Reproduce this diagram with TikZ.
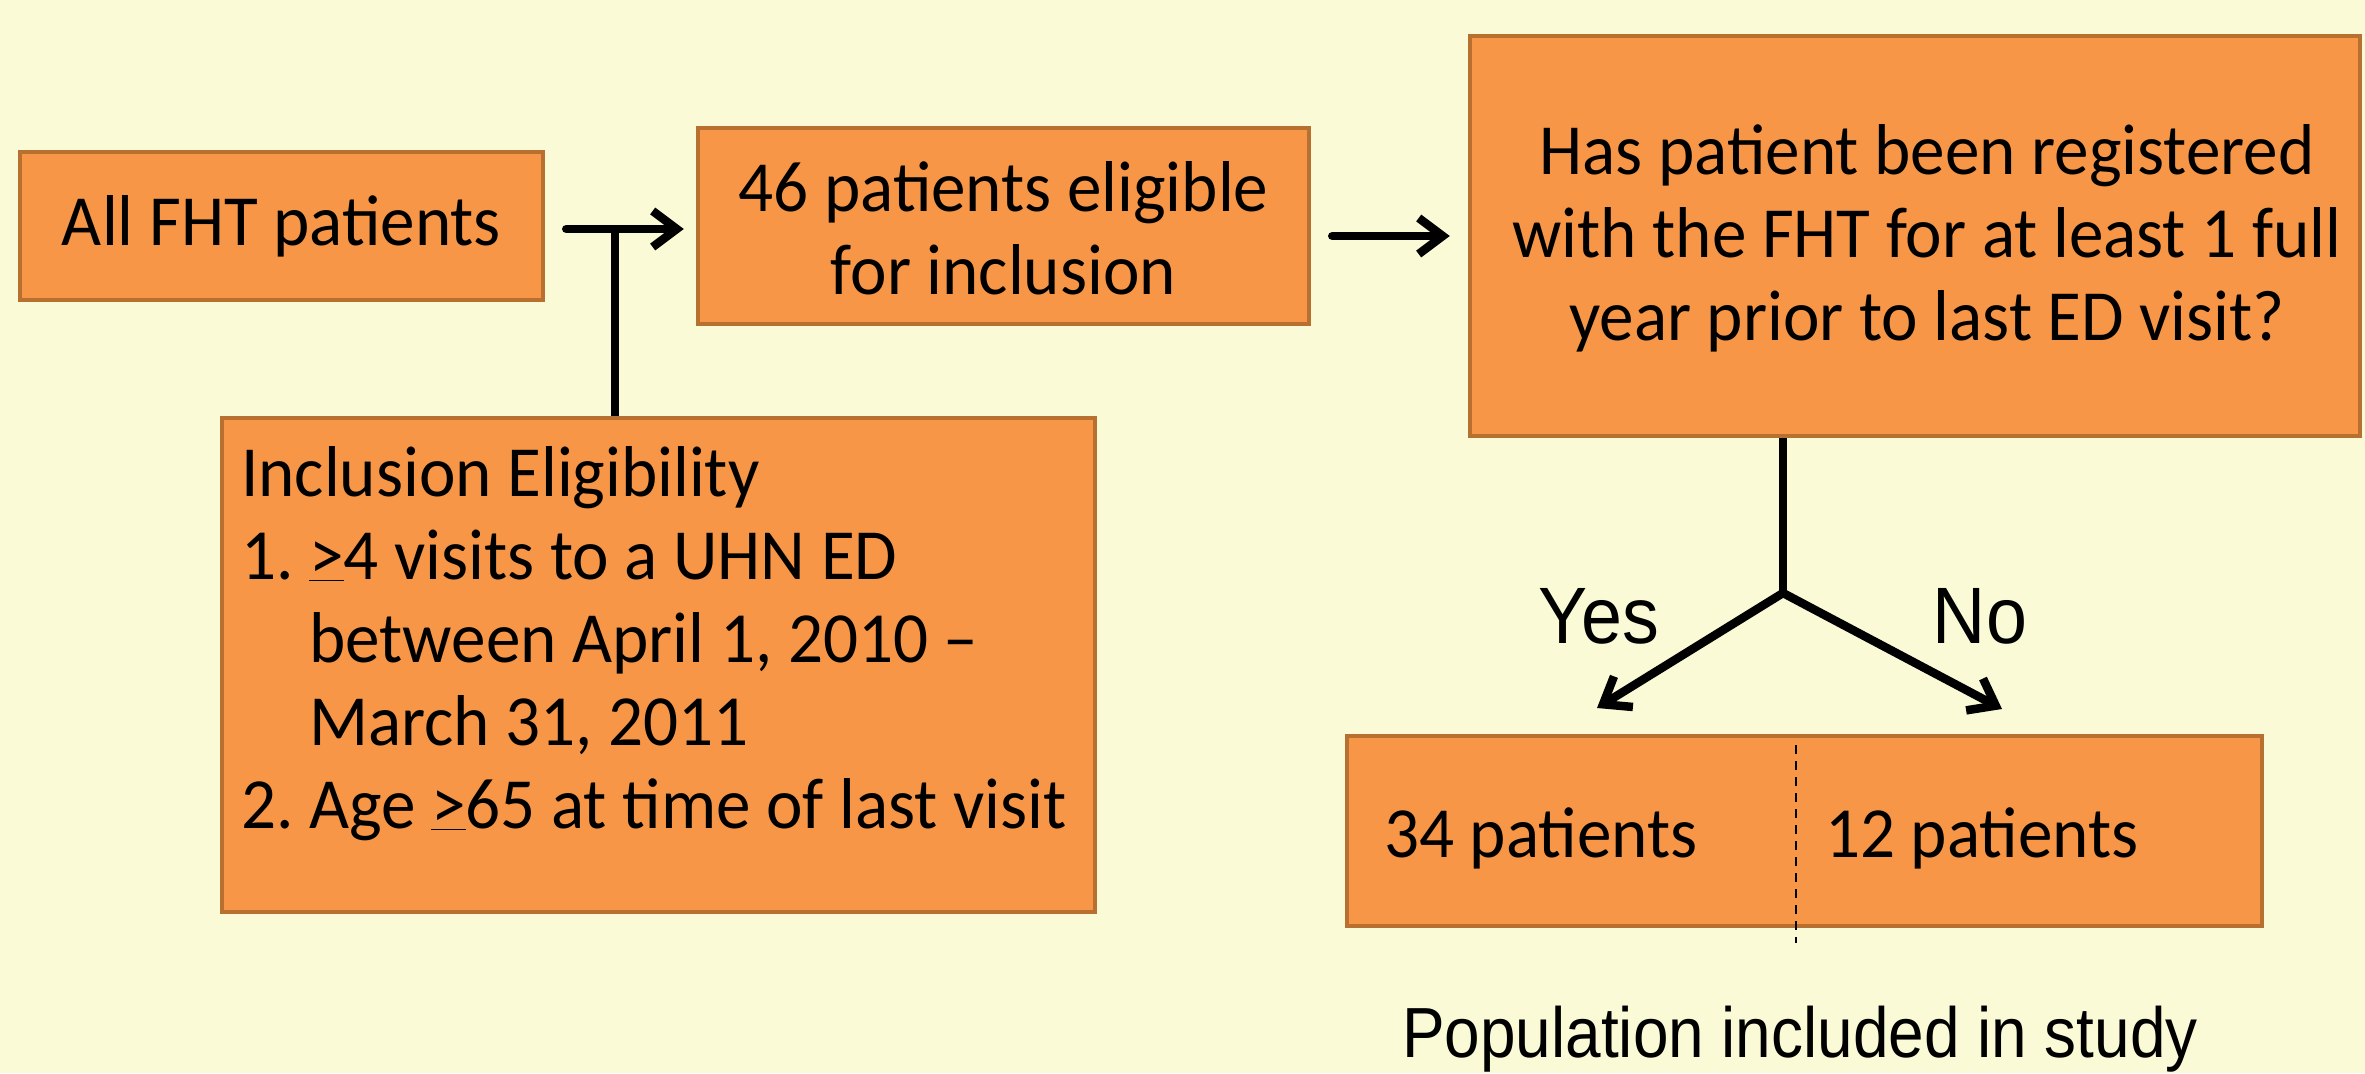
\documentclass[tikz,border=0pt]{standalone}
\usepackage{fontspec}
\setmainfont{Carlito}
\newfontfamily\arialfont{Liberation Sans}
\usetikzlibrary{arrows.meta}
\definecolor{bgyellow}{HTML}{FAFAD6}
\definecolor{boxfill}{HTML}{F79646}
\definecolor{boxline}{HTML}{B7702F}
\begin{document}
\begin{tikzpicture}[x=1pt,y=-1pt,
  box/.style={draw=boxline, fill=boxfill, line width=4.5pt, inner sep=0pt,
    font=\fontsize{72}{83}\selectfont, align=center},
  txt/.style={inner sep=0pt, font=\fontsize{72}{83}\selectfont},
  conn/.style={line width=8.5pt, line cap=round, line join=round,
    -{Straight Barb[length=24pt,width=36pt,line width=8.5pt]}},
  stem/.style={line width=8.5pt},
  lab/.style={inner sep=0pt, xscale=0.92, font=\arialfont\fontsize{80}{90}\selectfont},
  poplabel/.style={inner sep=0pt, xscale=0.9, font=\arialfont\fontsize{71}{84}\selectfont},
  divider/.style={line width=2pt, dash pattern=on 9pt off 7pt}
]
\fill[bgyellow] (0,0) rectangle (2365,1073);
\useasboundingbox (0,0) rectangle (2365,1073);

\node[box, xscale=0.96, minimum width=545pt, minimum height=148pt] (all) at (281.5,226) {All FHT patients};
\node[box, minimum width=611pt, minimum height=196pt] (elig) at (1003.5,226) {};
\node[txt, xscale=0.96, align=center] (eligtext) at (1003.5,228) {46 patients eligible\\for inclusion};
\node[box, minimum width=890pt, minimum height=400pt] (q) at (1915,236) {};
\node[txt, xscale=0.96, align=center] (qtext) at (1927,238) {Has patient been registered\\with the FHT for at least 1 full\\year prior to last ED visit?};
\node[box, minimum width=873pt, minimum height=494pt] (incl) at (658.5,665) {};
\node[txt, xscale=0.96, anchor=north west, align=left] (incltext) at (241,446) {Inclusion Eligibility\\
1.\ \underline{>}4 visits to a UHN ED\\
\hphantom{1.\ }between April 1, 2010 –\\
\hphantom{1.\ }March 31, 2011\\
2.\ Age \underline{>}65 at time of last visit};

\node[box, minimum width=915pt, minimum height=190pt] (pop) at (1804.5,831) {};
\node[txt, xscale=0.96, anchor=base west] (yes34) at (1384,857) {34 patients};
\node[txt, xscale=0.96, anchor=base west] (no12) at (1825,857) {12 patients};
\coordinate (divtop) at (1796,745);
\coordinate (divbot) at (1796,943);
\draw[divider] (divtop) -- (divbot);

\coordinate (j) at (615,229);
\draw[conn, shorten <=21pt, shorten >=12pt] (all.east |- j) -- (elig.west |- j);
\draw[stem] (incl.north -| j) -- (j);
\draw[conn, shorten <=21pt, shorten >=18pt] (elig.east |- q.west) -- (q.west);

\coordinate (split) at (1783,593);
\coordinate (yestip) at (1597,708);
\coordinate (notip) at (2002,709);
\draw[stem] (q.south -| split) -- (split);
\draw[conn] (split) -- (yestip);
\draw[conn] (split) -- (notip);

\node[lab] (yeslab) at (1599,616) {Yes};
\node[lab] (nolab) at (1980,616) {No};
\node[poplabel, anchor=base] (poplab) at (1800,1057) {Population included in study};
\end{tikzpicture}
\end{document}
